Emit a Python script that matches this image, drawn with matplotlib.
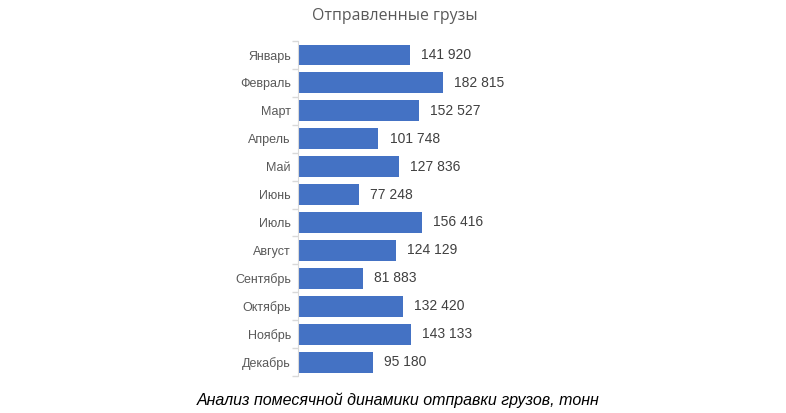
import matplotlib.pyplot as plt

months = ['Январь', 'Февраль', 'Март', 'Апрель', 'Май', 'Июнь', 'Июль',
          'Август', 'Сентябрь', 'Октябрь', 'Ноябрь', 'Декабрь']
shipped = [141920, 182815, 152527, 101748, 127836, 77248, 156416,
           124129, 81883, 132420, 143133, 95180]

plt.rcParams['font.family'] = ['Liberation Sans', 'DejaVu Sans']

fig = plt.figure(figsize=(7.86, 4.13), dpi=100)
ax = fig.add_axes([0.379, 0.0896, 0.398, 0.811])

y = list(range(len(months)))
ax.barh(y, shipped, height=0.75, color='#4472c4')
ax.set_ylim(len(months) - 0.5, -0.5)
ax.set_xlim(0, 395000)
ax.set_yticks(y)
ax.set_yticklabels(months, fontsize=9, color='#595959')
ax.set_yticks([i - 0.5 for i in range(len(months) + 1)], minor=True)
ax.tick_params(axis='y', which='major', length=0, pad=5)
ax.tick_params(axis='y', which='minor', length=4, color='#d9d9d9', width=1)
ax.set_xticks([])
for s in ['top', 'right', 'bottom']:
    ax.spines[s].set_visible(False)
ax.spines['left'].set_color('#d9d9d9')

for i, v in enumerate(shipped):
    ax.annotate(f'{v:,}'.replace(',', ' '), (v, i), xytext=(8, 0),
                textcoords='offset points', va='center', ha='left',
                fontsize=10, color='#404040')

fig.text(0.5025, 0.962, 'Отправленные грузы', ha='center', va='center',
         fontsize=11.4, color='#595959', family=['Open Sans', 'DejaVu Sans'])
fig.text(0.507, 0.03, 'Анализ помесячной динамики отправки грузов, тонн',
         ha='center', va='center', fontsize=11.5, style='italic', color='black')

fig.savefig('out.png', dpi=100)
